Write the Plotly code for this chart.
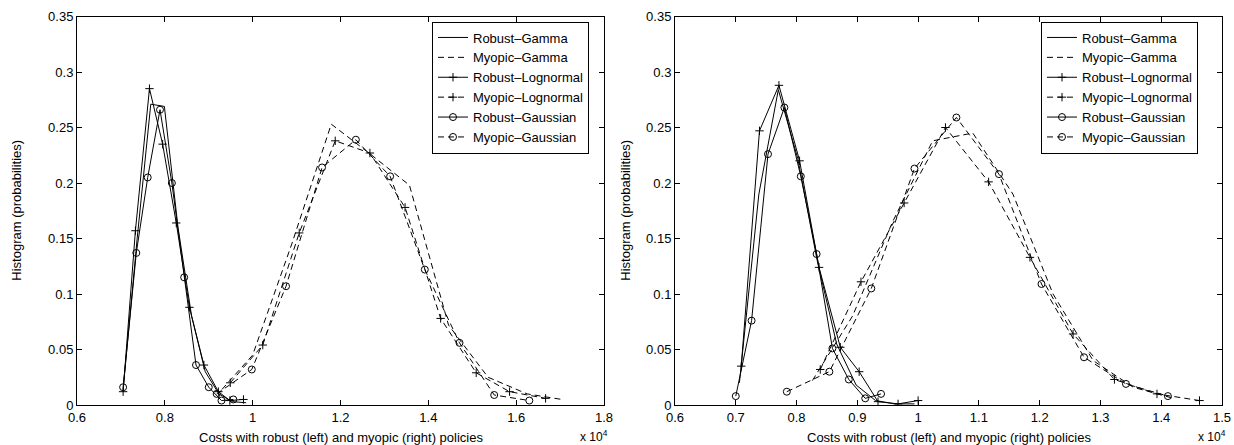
import plotly.graph_objects as go

# ---------------- data (costs in units of 1e4, probabilities) ----------------
# Left panel
L_rob_gamma_x = [0.705, 0.737, 0.768, 0.799, 0.830, 0.861, 0.892, 0.923, 0.954, 0.985]
L_rob_gamma_y = [0.014, 0.150, 0.271, 0.269, 0.160, 0.080, 0.030, 0.010, 0.003, 0.002]
L_myo_gamma_x = [0.930, 1.000, 1.089, 1.179, 1.268, 1.357, 1.446, 1.536, 1.625, 1.704]
L_myo_gamma_y = [0.014, 0.045, 0.145, 0.253, 0.226, 0.198, 0.072, 0.025, 0.010, 0.005]
L_rob_logn_x = [0.705, 0.733, 0.765, 0.795, 0.826, 0.856, 0.889, 0.922, 0.948, 0.979]
L_rob_logn_y = [0.012, 0.157, 0.285, 0.235, 0.164, 0.088, 0.036, 0.012, 0.004, 0.005]
L_myo_logn_x = [0.949, 1.023, 1.106, 1.188, 1.267, 1.347, 1.428, 1.509, 1.585, 1.667]
L_myo_logn_y = [0.020, 0.054, 0.155, 0.238, 0.227, 0.178, 0.078, 0.029, 0.012, 0.006]
L_rob_gaus_x = [0.705, 0.735, 0.761, 0.789, 0.816, 0.844, 0.871, 0.900, 0.929, 0.956]
L_rob_gaus_y = [0.016, 0.137, 0.205, 0.266, 0.200, 0.115, 0.036, 0.016, 0.004, 0.005]
L_myo_gaus_x = [0.918, 0.998, 1.076, 1.158, 1.235, 1.313, 1.392, 1.471, 1.550, 1.630]
L_myo_gaus_y = [0.010, 0.032, 0.107, 0.214, 0.239, 0.206, 0.122, 0.056, 0.009, 0.004]

# Right panel
R_rob_gamma_x = [0.706, 0.738, 0.770, 0.802, 0.834, 0.866, 0.898, 0.930, 0.962, 0.994]
R_rob_gamma_y = [0.020, 0.190, 0.284, 0.222, 0.130, 0.055, 0.018, 0.004, 0.001, 0.001]
R_myo_gamma_x = [0.826, 0.892, 0.958, 1.024, 1.090, 1.156, 1.222, 1.288, 1.354, 1.420]
R_myo_gamma_y = [0.022, 0.080, 0.165, 0.238, 0.245, 0.190, 0.100, 0.040, 0.016, 0.006]
R_rob_logn_x = [0.709, 0.739, 0.771, 0.805, 0.837, 0.872, 0.903, 0.934, 0.967, 1.000]
R_rob_logn_y = [0.035, 0.247, 0.288, 0.220, 0.124, 0.052, 0.030, 0.003, 0.001, 0.004]
R_myo_logn_x = [0.839, 0.906, 0.977, 1.045, 1.116, 1.184, 1.255, 1.323, 1.393, 1.463]
R_myo_logn_y = [0.032, 0.111, 0.182, 0.250, 0.201, 0.133, 0.064, 0.023, 0.010, 0.004]
R_rob_gaus_x = [0.700, 0.726, 0.753, 0.780, 0.807, 0.833, 0.859, 0.886, 0.913, 0.939]
R_rob_gaus_y = [0.008, 0.076, 0.226, 0.268, 0.206, 0.136, 0.051, 0.023, 0.006, 0.010]
R_myo_gaus_x = [0.784, 0.854, 0.923, 0.994, 1.063, 1.133, 1.203, 1.273, 1.342, 1.411]
R_myo_gaus_y = [0.012, 0.030, 0.105, 0.213, 0.259, 0.208, 0.109, 0.043, 0.019, 0.008]

names = ["Robust–Gamma", "Myopic–Gamma", "Robust–Lognormal",
         "Myopic–Lognormal", "Robust–Gaussian", "Myopic–Gaussian"]

y_ticks = [0, 0.05, 0.1, 0.15, 0.2, 0.25, 0.3, 0.35]
y_ticklabels = ["0", "0.05", "0.1", "0.15", "0.2", "0.25", "0.3", "0.35"]

x_title = "Costs with robust (left) and myopic (right) policies"
y_title = "Histogram (probabilities)"

# ---------------- figure ----------------
W, H = 1234, 445
FONT = "Liberation Sans, Arial, Helvetica, sans-serif"
DASH = "6px,4px"

styles = [
    dict(dash="solid", symbol=None, size=0),
    dict(dash=DASH, symbol=None, size=0),
    dict(dash="solid", symbol="cross-thin-open", size=6),
    dict(dash=DASH, symbol="cross-thin-open", size=6),
    dict(dash="solid", symbol="circle-open", size=7),
    dict(dash=DASH, symbol="circle-open", size=7),
]

left_series = [(L_rob_gamma_x, L_rob_gamma_y), (L_myo_gamma_x, L_myo_gamma_y),
               (L_rob_logn_x, L_rob_logn_y), (L_myo_logn_x, L_myo_logn_y),
               (L_rob_gaus_x, L_rob_gaus_y), (L_myo_gaus_x, L_myo_gaus_y)]
right_series = [(R_rob_gamma_x, R_rob_gamma_y), (R_myo_gamma_x, R_myo_gamma_y),
                (R_rob_logn_x, R_rob_logn_y), (R_myo_logn_x, R_myo_logn_y),
                (R_rob_gaus_x, R_rob_gaus_y), (R_myo_gaus_x, R_myo_gaus_y)]

fig = go.Figure()


def add_panel(series, xa, ya, legend):
    for (xs, ys), name, st in zip(series, names, styles):
        mode = "lines" if st["symbol"] is None else "lines+markers"
        marker = dict(color="black", size=max(st["size"], 1), line=dict(color="black", width=1))
        if st["symbol"] is not None:
            marker["symbol"] = st["symbol"]
        fig.add_trace(go.Scatter(
            x=xs, y=ys, mode=mode, name=name,
            line=dict(color="black", width=1, dash=st["dash"]),
            marker=marker, xaxis=xa, yaxis=ya, legend=legend,
        ))


add_panel(left_series, "x", "y", "legend")
add_panel(right_series, "x2", "y2", "legend2")

ydom = [40 / H, (H - 16.5) / H]
Ldom = [77 / W, 604 / W]
Rdom = [675 / W, 1222 / W]

axis_common = dict(
    showline=True, linecolor="black", linewidth=1, mirror="ticks",
    ticks="inside", ticklen=5, tickcolor="black", tickwidth=1,
    showgrid=False, zeroline=False,
    tickfont=dict(family=FONT, size=13, color="black"),
    automargin=False,
)

legend_common = dict(
    bgcolor="white", bordercolor="black", borderwidth=1,
    font=dict(family=FONT, size=13, color="black"),
    xanchor="left", yanchor="top", tracegroupgap=0,
    itemwidth=30,
)

fig.update_layout(
    width=W, height=H,
    margin=dict(l=0, r=0, t=0, b=0),
    paper_bgcolor="white", plot_bgcolor="white",
    font=dict(family=FONT, color="black"),
    xaxis=dict(domain=Ldom, range=[0.6, 1.8], dtick=0.2, tick0=0.6, anchor="y", **axis_common),
    yaxis=dict(domain=ydom, range=[0, 0.35], tickvals=y_ticks, ticktext=y_ticklabels, anchor="x", **axis_common),
    xaxis2=dict(domain=Rdom, range=[0.6, 1.5], dtick=0.1, tick0=0.6, anchor="y2", **axis_common),
    yaxis2=dict(domain=ydom, range=[0, 0.35], tickvals=y_ticks, ticktext=y_ticklabels, anchor="x2", **axis_common),
    legend=dict(x=432 / W, y=(H - 21.5) / H, **legend_common),
    legend2=dict(x=1041 / W, y=(H - 21.5) / H, **legend_common),
    showlegend=True,
)

ann_font = dict(family=FONT, size=13, color="black")
for dom, ytx in [(Ldom, 17), (Rdom, 626)]:
    fig.add_annotation(text=x_title, xref="paper", yref="paper",
                       x=(dom[0] + dom[1]) / 2, y=(H - 437) / H,
                       xanchor="center", yanchor="middle", showarrow=False, font=ann_font)
    fig.add_annotation(text=y_title, xref="paper", yref="paper",
                       x=ytx / W, y=(H - 210.7) / H, textangle=-90,
                       xanchor="center", yanchor="middle", showarrow=False, font=ann_font)
    fig.add_annotation(text="x 10<sup>4</sup>", xref="paper", yref="paper",
                       x=(dom[1] * W + 6) / W, y=(H - 436) / H,
                       xanchor="right", yanchor="middle", showarrow=False,
                       font=dict(family=FONT, size=12, color="black"))

fig.write_html("out.html")
